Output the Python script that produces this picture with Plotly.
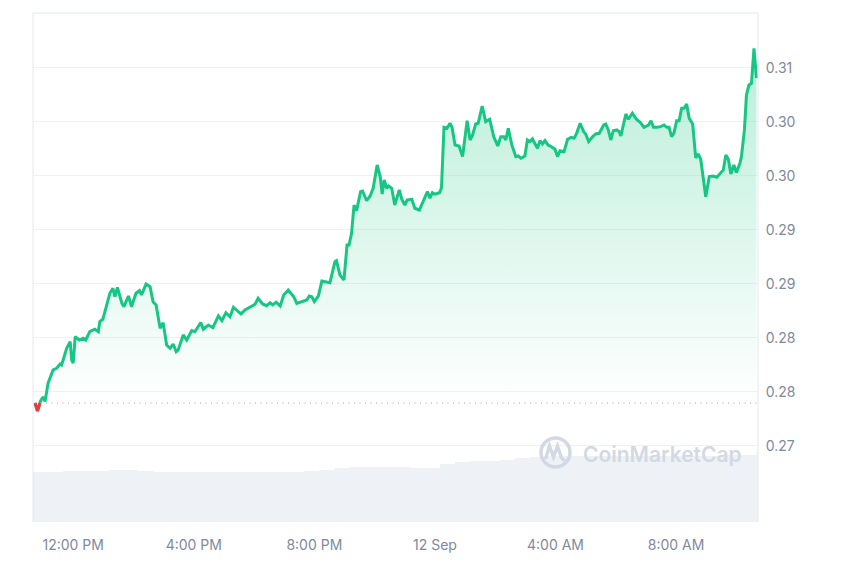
import plotly.graph_objects as go
from datetime import datetime, timedelta

# ---------------- data ----------------
START = datetime(2024, 9, 11, 10, 40)

# minutes after START
price_minutes = [
    4, 9, 15, 20, 24, 30, 40, 47, 54, 57, 67, 74, 77, 80, 84, 92, 100, 105, 113, 123,
    130, 133, 139, 143, 153, 159, 163, 168, 177, 181, 190, 196, 205, 212, 216, 225, 233, 239, 245, 253,
    259, 266, 273, 279, 285, 289, 299, 306, 316, 322, 326, 334, 339, 349, 358, 369, 376, 384, 392, 399,
    405, 414, 422, 432, 442, 448, 457, 465, 472, 477, 484, 492, 499, 508, 515, 519, 525, 535, 545, 550,
    555, 560, 568, 575, 583, 591, 601, 604, 611, 619, 625, 629, 634, 639, 644, 652, 656, 664, 671, 677,
    685, 691, 695, 699, 704, 708, 714, 720, 729, 734, 740, 745, 754, 760, 769, 777, 785, 790, 795, 800,
    809, 813, 818, 824, 830, 834, 840, 848, 855, 864, 870, 875, 881, 886, 894, 901, 909, 917, 925, 931,
    937, 941, 946, 953, 961, 966, 971, 979, 984, 989, 994, 1004, 1009, 1014, 1019, 1025, 1032, 1039, 1044, 1049,
    1057, 1064, 1071, 1077, 1082, 1089, 1096, 1100, 1106, 1114, 1120, 1127, 1136, 1140, 1145, 1150, 1155, 1162, 1167, 1170,
    1175, 1180, 1185, 1193, 1201, 1209, 1216, 1225, 1230, 1235, 1242, 1249, 1256, 1261, 1266, 1271, 1276, 1281, 1286, 1291,
    1296, 1301, 1306, 1313, 1319, 1324, 1329, 1339, 1346, 1353, 1361, 1367, 1374, 1379, 1384, 1389, 1395, 1400, 1407, 1410,
    1416, 1420, 1425, 1430, 1435, 1440,
]

price_values = [
    0.27398, 0.27324, 0.27417, 0.27454, 0.27412, 0.27581, 0.27704, 0.27719, 0.27759, 0.27750,
    0.27905, 0.27966, 0.27796, 0.27766, 0.28012, 0.27981, 0.27997, 0.27981, 0.28058, 0.28081,
    0.28058, 0.28151, 0.28173, 0.28244, 0.28414, 0.28460, 0.28382, 0.28469, 0.28321, 0.28290,
    0.28389, 0.28290, 0.28414, 0.28438, 0.28398, 0.28500, 0.28475, 0.28336, 0.28306, 0.28090,
    0.28142, 0.27935, 0.27905, 0.27944, 0.27873, 0.27889, 0.28028, 0.27981, 0.28068, 0.28058,
    0.28090, 0.28142, 0.28081, 0.28120, 0.28095, 0.28204, 0.28160, 0.28234, 0.28197, 0.28284,
    0.28259, 0.28222, 0.28259, 0.28284, 0.28312, 0.28368, 0.28315, 0.28299, 0.28327, 0.28306,
    0.28331, 0.28296, 0.28398, 0.28444, 0.28398, 0.28382, 0.28321, 0.28336, 0.28352, 0.28389,
    0.28382, 0.28336, 0.28389, 0.28528, 0.28521, 0.28512, 0.28706, 0.28716, 0.28583, 0.28537,
    0.28861, 0.28861, 0.28969, 0.29231, 0.29179, 0.29355, 0.29361, 0.29271, 0.29315, 0.29386,
    0.29602, 0.29494, 0.29333, 0.29463, 0.29386, 0.29407, 0.29386, 0.29231, 0.29370, 0.29284,
    0.29231, 0.29278, 0.29284, 0.29201, 0.29185, 0.29278, 0.29355, 0.29294, 0.29345, 0.29331,
    0.29345, 0.29389, 0.29951, 0.29942, 0.29988, 0.29951, 0.29787, 0.29778, 0.29679, 0.30012,
    0.29833, 0.29880, 0.29981, 0.29988, 0.30148, 0.30003, 0.30025, 0.29864, 0.29778, 0.29864,
    0.29864, 0.29833, 0.29942, 0.29787, 0.29679, 0.29685, 0.29664, 0.29685, 0.29833, 0.29818,
    0.29843, 0.29756, 0.29827, 0.29796, 0.29827, 0.29787, 0.29771, 0.29747, 0.29679, 0.29734,
    0.29725, 0.29840, 0.29858, 0.29849, 0.29895, 0.29988, 0.29910, 0.29889, 0.29818, 0.29864,
    0.29889, 0.29895, 0.29972, 0.29981, 0.29926, 0.29833, 0.29919, 0.29926, 0.29910, 0.29870,
    0.29988, 0.30074, 0.30025, 0.30081, 0.30025, 0.29994, 0.29951, 0.29972, 0.30012, 0.29951,
    0.29951, 0.29957, 0.29972, 0.29951, 0.29951, 0.29864, 0.29901, 0.30012, 0.30012, 0.30127,
    0.30127, 0.30167, 0.30034, 0.29981, 0.29667, 0.29704, 0.29655, 0.29308, 0.29494, 0.29500,
    0.29488, 0.29519, 0.29556, 0.29694, 0.29655, 0.29519, 0.29602, 0.29531, 0.29618, 0.29679,
    0.29926, 0.30250, 0.30343, 0.30358, 0.30682, 0.30405,
]

volume_minutes = [
    0, 30, 60, 90, 120, 150, 180, 210, 240, 270, 300, 330, 360, 390, 420, 450, 480,
    510, 540, 570, 600, 630, 660, 690, 720, 750, 780, 810, 840, 870, 900, 930, 960,
    990, 1020, 1050, 1080, 1110, 1140, 1170, 1200, 1230, 1260, 1290, 1320, 1350, 1380,
    1410, 1440,
]
volume_values = [
    5.0, 5.0, 5.1, 5.1, 5.1, 5.2, 5.2, 5.1, 5.0, 5.0,
    5.0, 5.0, 5.0, 5.0, 5.0, 5.0, 5.0, 5.0, 5.1, 5.2,
    5.4, 5.5, 5.5, 5.5, 5.5, 5.4, 5.4, 5.8, 6.0, 6.1,
    6.1, 6.2, 6.4, 6.5, 6.6, 6.6, 6.6, 6.6, 6.6, 6.6,
    6.6, 6.6, 6.6, 6.6, 6.6, 6.6, 6.7, 6.7, 7.0,
]

y_tick_values = [0.27, 0.275, 0.28, 0.285, 0.29, 0.295, 0.30, 0.305]
y_tick_labels = ["0.27", "0.28", "0.28", "0.29", "0.29", "0.30", "0.30", "0.31"]

x_tick_times = [
    datetime(2024, 9, 11, 12, 0), datetime(2024, 9, 11, 16, 0), datetime(2024, 9, 11, 20, 0),
    datetime(2024, 9, 12, 0, 0), datetime(2024, 9, 12, 4, 0), datetime(2024, 9, 12, 8, 0),
]
x_tick_labels = ["12:00 PM", "4:00 PM", "8:00 PM", "12 Sep", "4:00 AM", "8:00 AM"]

# ---------------- build ----------------
GREEN = "#16c784"
RED = "#ea3943"
TICK_COLOR = "#808a9d"
GRID = "#eff2f5"

px = [START + timedelta(minutes=m) for m in price_minutes]
vx = [START + timedelta(minutes=m) for m in volume_minutes]
base = price_values[0]
x_end = START + timedelta(minutes=1443)

# red part of the line (below opening price)
red_x, red_y = [], []
for i in range(len(price_values) - 1):
    y0, y1 = price_values[i], price_values[i + 1]
    m0, m1 = price_minutes[i], price_minutes[i + 1]
    if y0 < base or y1 < base:
        def cross():
            f = (base - y0) / (y1 - y0)
            return START + timedelta(minutes=m0 + f * (m1 - m0))
        a = (px[i], y0) if y0 <= base else (cross(), base)
        b = (px[i + 1], y1) if y1 <= base else (cross(), base)
        red_x += [a[0], b[0], None]
        red_y += [a[1], b[1], None]

fig = go.Figure()

# volume as a stepped area (bars of 30 min)
fig.add_trace(go.Scatter(
    x=vx + [x_end], y=volume_values + [volume_values[-1]], yaxis="y2",
    mode="lines", line=dict(shape="hv", width=0, color="#eef1f5"),
    fill="tozeroy", fillcolor="#eef1f5", hoverinfo="skip", showlegend=False,
))

fig.add_trace(go.Scatter(
    x=[px[0], px[-1]], y=[base, base], mode="lines",
    line=dict(width=0, color="rgba(0,0,0,0)"), hoverinfo="skip", showlegend=False,
))
fig.add_trace(go.Scatter(
    x=px, y=price_values, mode="lines", fill="tonexty",
    fillgradient=dict(
        type="vertical",
        start=base, stop=max(price_values),
        colorscale=[[0, "rgba(22,199,132,0.0)"], [1, "rgba(22,199,132,0.30)"]],
    ),
    line=dict(color=GREEN, width=3), showlegend=False,
))
fig.add_trace(go.Scatter(
    x=red_x, y=red_y, mode="lines", line=dict(color=RED, width=3),
    hoverinfo="skip", showlegend=False,
))

# opening price dotted line
fig.add_shape(type="line", xref="x", yref="y", x0=px[0], x1=x_end, y0=base, y1=base,
              line=dict(color="#a3a9b6", width=1.2, dash="1px,4.5px"), layer="above")

# frame (page body has an 8px offset, compensate in the margins)
OFF = 8
W, H = 850, 567
L, R, T, B = 33 - OFF, 92 + OFF, 13 - OFF, 45 + OFF
pw, ph = W - L - R, H - T - B

def pp(x, y):
    # screen pixel -> paper coords
    return (x - OFF - L) / pw, (H - B - (y - OFF)) / ph

for (x0, y0, x1, y1) in [(0, 1, 1, 1), (0, 0, 0, 1), (1, 0, 1, 1)]:
    fig.add_shape(type="line", xref="paper", yref="paper", x0=x0, y0=y0, x1=x1, y1=y1,
                  line=dict(color="#e6e8ec", width=1))

# watermark logo
WM = "#d3d9e4"
cx, cy, r = 555.5, 452.5, 14.5
a0, b0 = pp(cx - r, cy + r)
a1, b1 = pp(cx + r, cy - r)
fig.add_shape(type="circle", xref="paper", yref="paper", x0=a0, y0=b0, x1=a1, y1=b1,
              line=dict(color=WM, width=3.5))
pts = [(545.5, 459), (549.5, 446), (553.5, 457), (557.5, 446), (561.5, 458), (565, 461)]
path = "M " + " L ".join("%.5f,%.5f" % pp(x, y) for x, y in pts)
fig.add_shape(type="path", xref="paper", yref="paper", path=path,
              line=dict(color=WM, width=3.5))
fig.add_annotation(xref="paper", yref="paper", x=pp(581, 0)[0], y=pp(0, 454)[1],
                   xanchor="left", yanchor="middle", showarrow=False,
                   text="CoinMarketCap",
                   font=dict(family="Inter, Noto Sans, sans-serif", size=21, color=WM, weight=600))

fig.update_layout(
    width=W, height=H,
    margin=dict(l=L, r=R, t=T, b=B),
    paper_bgcolor="white", plot_bgcolor="white",
    xaxis=dict(
        type="date", range=[START, x_end],
        tickvals=x_tick_times, ticktext=x_tick_labels,
        showgrid=False, zeroline=False, showline=False,
        ticks="outside", ticklen=10, tickcolor="rgba(0,0,0,0)",
        tickfont=dict(family="Inter, sans-serif", size=14, color=TICK_COLOR),
    ),
    yaxis=dict(
        side="right", range=[0.26296, 0.31009],
        tickvals=y_tick_values, ticktext=y_tick_labels,
        showgrid=True, gridcolor=GRID, gridwidth=1, zeroline=False, showline=False,
        ticks="outside", ticklen=4, tickcolor="rgba(0,0,0,0)",
        tickfont=dict(family="Inter, sans-serif", size=14, color=TICK_COLOR),
    ),
    yaxis2=dict(overlaying="y", range=[0, 50.9], visible=False, showgrid=False),
    showlegend=False,
)

fig.write_html("out.html")
